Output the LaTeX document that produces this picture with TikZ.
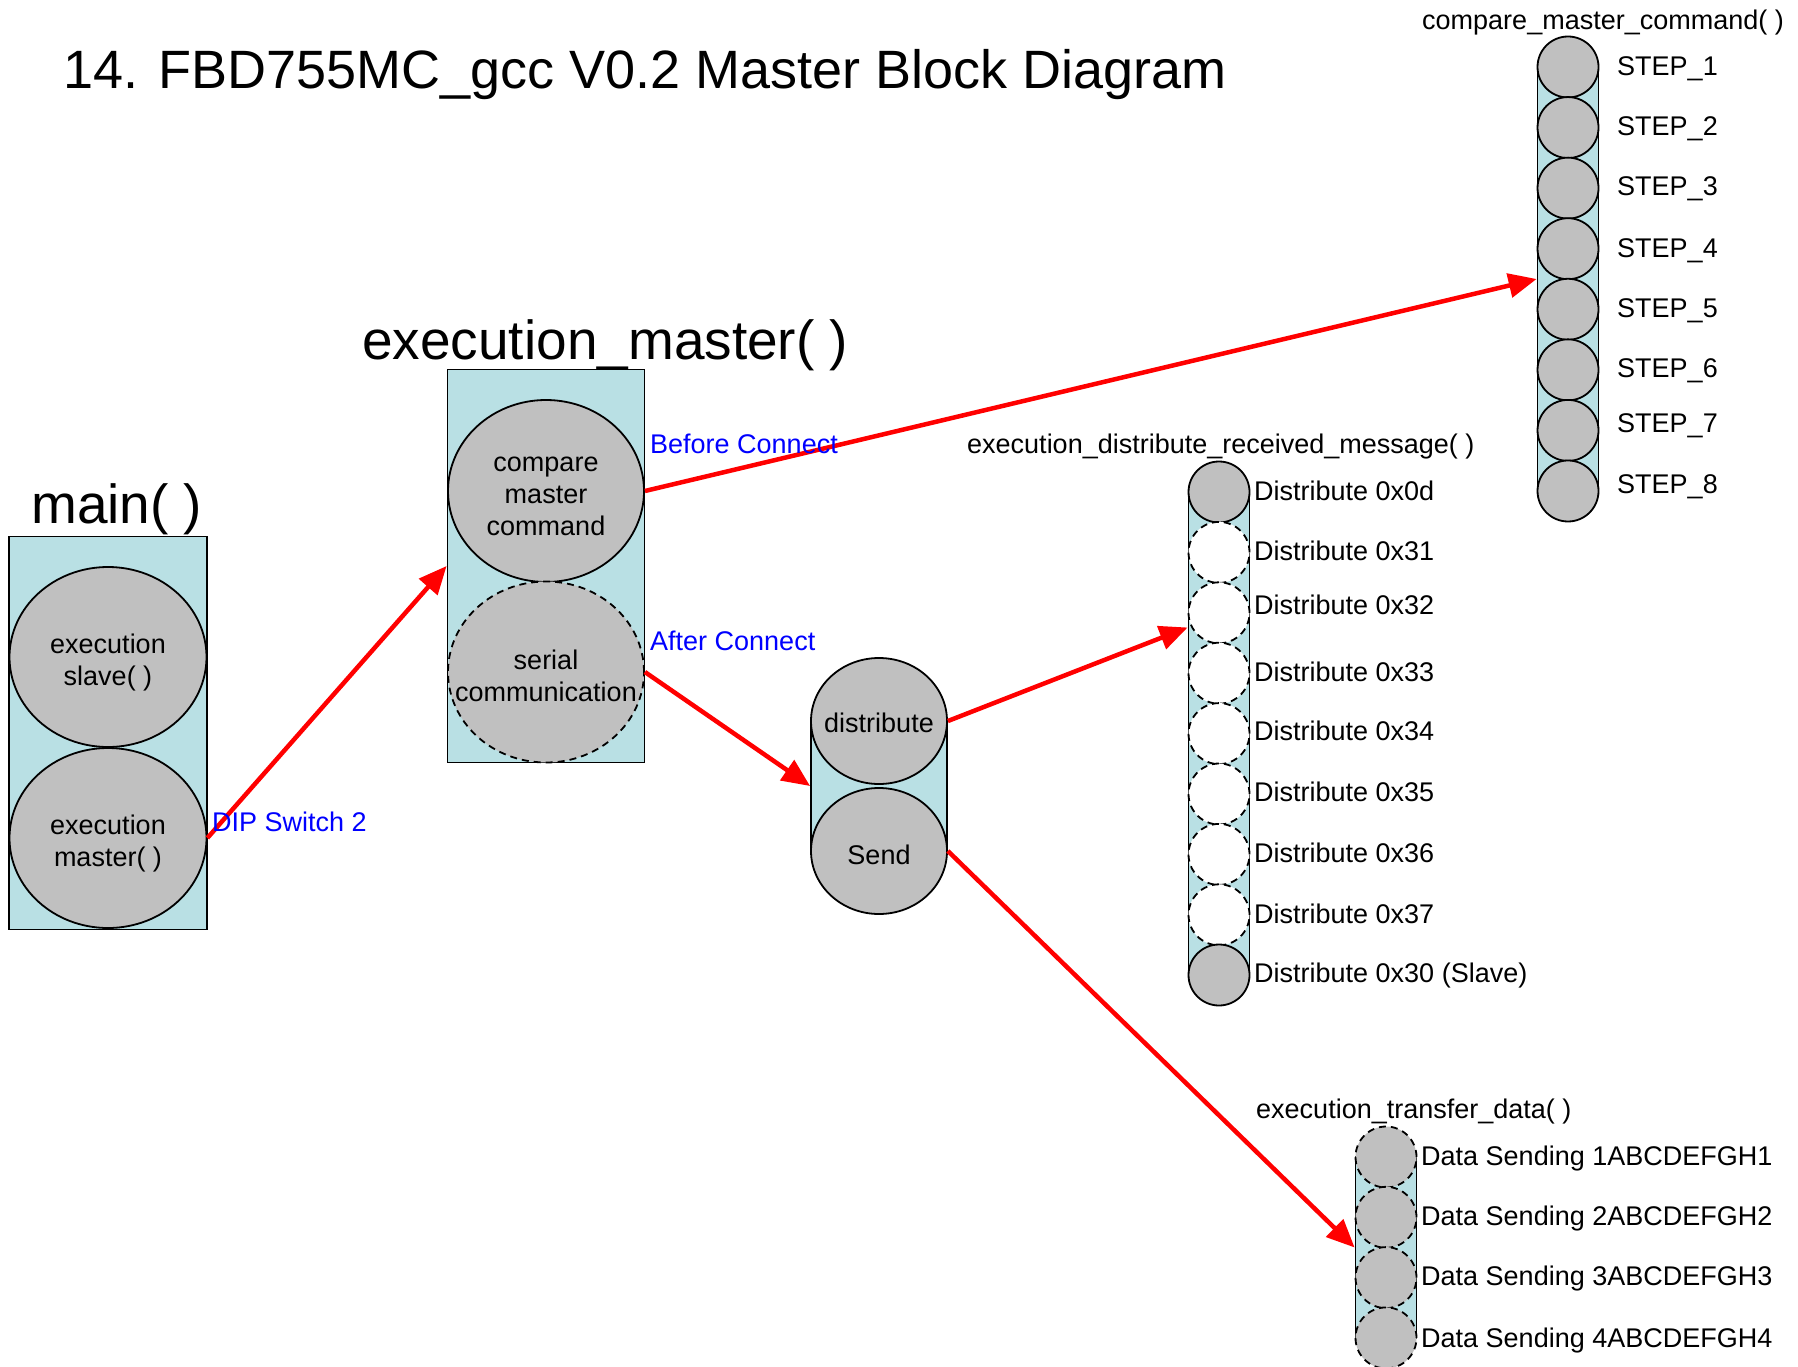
\documentclass[tikz,border=0pt]{standalone}
\usepackage{fontspec}
\setmainfont{Liberation Sans}
\usetikzlibrary{shapes.geometric,arrows.meta}

\definecolor{bandfill}{RGB}{185,224,228}
\definecolor{bubblegray}{RGB}{192,192,192}
\definecolor{linkred}{RGB}{255,0,0}
\definecolor{noteblue}{RGB}{0,0,255}

\newcommand\lblfont{\fontsize{27}{32}\selectfont}
\newcommand\headfont{\fontsize{55}{62}\selectfont}
\newcommand\titlefont{\fontsize{54}{62}\selectfont}

\tikzset{
  boxframe/.style={draw=black, line width=1.8pt, fill=bandfill, inner sep=0pt},
  oval/.style={shape=ellipse, draw=black, line width=1.8pt, fill=bubblegray, inner sep=0pt},
  dashedoval/.style={oval, dash pattern=on 7pt off 5pt},
  dot/.style={shape=circle, draw=black, line width=1.8pt, fill=bubblegray, inner sep=0pt, minimum size=61pt},
  hollowdot/.style={dot, fill=white, dash pattern=on 7pt off 5pt},
  dasheddot/.style={dot, dash pattern=on 7pt off 5pt},
  txt/.style={inner sep=0pt, font=\lblfont, align=center},
  lbl/.style={inner sep=0pt, font=\lblfont, anchor=base west},
  note/.style={lbl, text=noteblue},
  head/.style={inner sep=0pt, font=\headfont, anchor=base west},
  link/.style={draw=linkred, line width=4.5pt, -{Triangle[length=28pt,width=24pt]}}
}

\begin{document}
\begin{tikzpicture}[x=1pt, y=-1pt]
\useasboundingbox[fill=white] (0,0) rectangle (1798,1367);

% page title
\node[head, font=\titlefont] (title) at (63,89) {14. FBD755MC\_gcc V0.2 Master Block Diagram};

% main( )
\node[head] (maintitle) at (31,523) {main( )};
\node[boxframe, minimum width=198pt, minimum height=393pt] (mainbox) at (108,733) {};
\node[oval, minimum width=197pt, minimum height=180pt] (slave) at (108,657) {};
\node[txt] at ([yshift=-6pt]slave.center) {execution\\slave( )};
\node[oval, minimum width=197pt, minimum height=180pt] (master) at (108,838) {};
\node[txt] at ([yshift=-6pt]master.center) {execution\\master( )};

% execution_master( )
\node[head] (emtitle) at (362,359) {execution\_master( )};
\node[boxframe, minimum width=197pt, minimum height=393pt] (embox) at (546,566) {};
\node[oval, minimum width=196pt, minimum height=182pt] (compare) at (546,491) {};
\node[txt] at ([yshift=-5pt]compare.center) {compare\\master\\command};
\node[dashedoval, minimum width=196pt, minimum height=181pt] (serial) at (546,672) {};
\node[txt] at ([yshift=-4pt]serial.center) {serial\\communication};

% distribute / Send
\node[boxframe, minimum width=136pt, minimum height=130pt] (dcyl) at (879,786) {};
\node[oval, minimum width=136pt, minimum height=126pt] (distr) at (879,721) {};
\node[txt] at ([yshift=-2pt]distr.center) {distribute};
\node[oval, minimum width=136pt, minimum height=126pt] (send) at (879,851) {};
\node[txt] at ([yshift=-4pt]send.center) {Send};

% compare_master_command( )
\node[lbl] (cctitle) at (1422,30) {compare\_master\_command( )};
\node[boxframe, minimum width=61pt, minimum height=424pt] (ccol) at (1568,279) {};
\foreach \i in {1,...,8}
  \node[dot] (c\i) at (1568,{67+(\i-1)*60.57}) {};
\foreach \i/\y in {1/66,2/126,3/186,4/247,5/307,6/367,7/422,8/483}
  \node[lbl] (cl\i) at (1617,{\y+10}) {STEP\_\i};

% execution_distribute_received_message( )
\node[lbl] (dtitle) at (967,453) {execution\_distribute\_received\_message( )};
\node[boxframe, minimum width=61pt, minimum height=483pt] (dcol) at (1219,733.5) {};
\node[dot] (d1) at (1219,492) {};
\foreach \i in {2,...,8}
  \node[hollowdot] (d\i) at (1219,{492+(\i-1)*60.4}) {};
\node[dot] (d9) at (1219,975) {};
\foreach \i/\y/\t in {1/490/0x0d,2/550/0x31,3/604/0x32,4/671/0x33,5/730/0x34,6/791/0x35,7/852/0x36,8/913/0x37,9/972/0x30 (Slave)}
  \node[lbl] (dl\i) at (1254,{\y+10}) {Distribute \t};

% execution_transfer_data( )
\node[lbl] (ttitle) at (1256,1118) {execution\_transfer\_data( )};
\node[boxframe, minimum width=61pt, minimum height=181pt] (tcol) at (1386,1247.5) {};
\foreach \i in {1,...,4}
  \node[dasheddot] (t\i) at (1386,{1157+(\i-1)*60.3}) {};
\foreach \i/\y in {1/1155,2/1215,3/1275,4/1337}
  \node[lbl] (tl\i) at (1421,{\y+10}) {Data Sending \i ABCDEFGH\i};

% connectors
\coordinate (dtip) at ([yshift=106pt]dcol.west);
\draw[link] (master.east) -- (embox.west);
\draw[link] (compare.east) -- (ccol.west);
\draw[link] (serial.east) -- (dcyl.west);
\draw[link] (distr.east) -- (dtip);
\draw[link] (send.east) -- (tcol.west);

% connector notes
\node[note] (dip) at (212,831) {DIP Switch 2};
\node[note] (before) at (650,453) {Before Connect};
\node[note] (after) at (650,650) {After Connect};
\end{tikzpicture}
\end{document}
